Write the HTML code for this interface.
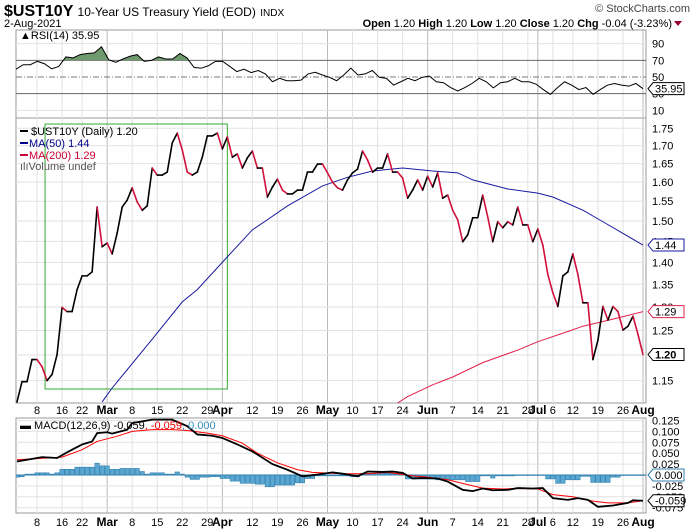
<!DOCTYPE html>
<html><head><meta charset="utf-8"><style>
body{margin:0;background:#fff;width:700px;height:530px;overflow:hidden;font-family:"Liberation Sans",sans-serif}
svg{position:absolute;left:0;top:0}
text{font-family:"Liberation Sans",sans-serif}
</style></head><body>
<svg id="c" width="700" height="530" viewBox="0 0 700 530">
<text x="4" y="16" font-size="16" font-weight="bold">$UST10Y <tspan font-size="12" font-weight="normal">10-Year US Treasury Yield (EOD)</tspan> <tspan font-size="10" font-weight="normal">INDX</tspan></text>
<text x="690" y="12" font-size="11" fill="#444" text-anchor="end">© StockCharts.com</text>
<text x="4" y="27" font-size="11">2-Aug-2021</text>
<text x="672" y="27" font-size="11" text-anchor="end"><tspan font-weight="bold">Open</tspan> 1.20 <tspan font-weight="bold">High</tspan> 1.20 <tspan font-weight="bold">Low</tspan> 1.20 <tspan font-weight="bold">Close</tspan> 1.20 <tspan font-weight="bold">Chg</tspan> -0.04 (-3.23%)</text>
<path d="M674,21 L682,21 L678,26Z" fill="#990033"/>
<g id="grid"></g>
<g id="marks"></g>
<text x="20" y="39" font-size="11">▲RSI(14) 35.95</text>
<g font-size="11">
<line x1="20" y1="131" x2="28" y2="131" stroke="#000" stroke-width="2"/><text x="31" y="135">$UST10Y (Daily) 1.20</text>
<line x1="20" y1="143" x2="28" y2="143" stroke="#00008b" stroke-width="2"/><text x="29" y="147" fill="#00008b">MA(50) 1.44</text>
<line x1="20" y1="155" x2="28" y2="155" stroke="#cc0033" stroke-width="2"/><text x="29" y="159" fill="#cc0033">MA(200) 1.29</text>
<text x="20" y="170" fill="#555">ılıVolume undef</text>
</g>
<text x="20" y="429" font-size="11">▬ MACD(12,26,9) -0.059<tspan fill="#e00">, -0.059</tspan><tspan fill="#3a8fc0">, 0.000</tspan></text>
</svg>
<script>
// ---- data ----
const closes=[1.110,1.148,1.148,1.191,1.191,1.177,1.150,1.162,1.201,1.299,1.290,1.290,1.338,1.369,1.369,1.378,1.535,1.437,1.446,1.420,1.470,1.535,1.553,1.585,1.548,1.527,1.538,1.638,1.619,1.619,1.627,1.708,1.736,1.688,1.627,1.619,1.627,1.668,1.728,1.728,1.736,1.691,1.725,1.668,1.677,1.638,1.666,1.685,1.638,1.638,1.561,1.587,1.608,1.579,1.569,1.569,1.579,1.579,1.627,1.627,1.649,1.649,1.625,1.600,1.585,1.579,1.606,1.625,1.635,1.685,1.660,1.627,1.638,1.638,1.677,1.627,1.627,1.611,1.558,1.579,1.606,1.579,1.616,1.587,1.625,1.558,1.566,1.527,1.503,1.449,1.466,1.508,1.508,1.566,1.510,1.449,1.498,1.483,1.498,1.490,1.535,1.490,1.490,1.449,1.480,1.441,1.372,1.331,1.301,1.369,1.378,1.420,1.372,1.309,1.309,1.191,1.230,1.301,1.272,1.301,1.290,1.251,1.259,1.280,1.242,1.201];
const ma50Days=[17,19,27,33,36,42,47,50,54,61,66,71,77,83,88,91,98,104,107,113,117,125];
const ma50Vals=[1.110,1.136,1.232,1.311,1.338,1.413,1.478,1.503,1.538,1.590,1.613,1.630,1.638,1.630,1.625,1.606,1.582,1.571,1.561,1.527,1.498,1.441];
const ma200Days=[76,78,83,87,93,100,104,110,113,119,125];
const ma200Vals=[1.108,1.120,1.142,1.157,1.185,1.210,1.227,1.248,1.259,1.274,1.290];
const rsiVals=[59.4,64.7,64.7,68.8,65.9,59.8,62.7,74.1,72.9,76.9,78.2,79,86.3,70.8,67.6,71.6,74.9,76.9,68.8,70,74.1,71.6,71.6,78.2,72.9,61.4,60.6,63.5,68.8,68.8,62.7,56.5,59.4,55.3,57.8,53.7,44.3,48.4,45.5,45.5,46.3,53.7,55.7,52.4,49.6,45.5,52.4,60.6,52.4,53.7,57.8,49.6,48.4,40.2,44.3,48.4,45.5,49.6,51.2,44.3,43.1,37.3,33.3,37.3,42.2,48.4,44.3,36.9,43.1,44.3,48.4,44.3,44.3,41.4,34.9,29.2,37.3,44.3,40.2,34.9,37.3,29.2,34.9,40.2,42.2,40.2,39,42.2,36];
const macdDays=[0,5,8,10,13,15,16,18,19,22,23,27,31,34,36,39,41,44,47,48,51,54,57,60,63,65,68,70,73,75,77,79,81,84,86,89,91,93,95,98,100,103,105,107,110,112,114,116,119,122,123,125];
const macdVals=[0.031,0.041,0.039,0.052,0.070,0.077,0.096,0.098,0.095,0.104,0.119,0.127,0.127,0.112,0.093,0.090,0.085,0.070,0.054,0.047,0.025,0.012,-0.003,0.001,0.006,0.003,-0.003,0.008,0.007,0.008,0.005,-0.008,-0.007,-0.008,-0.015,-0.034,-0.037,-0.031,-0.035,-0.034,-0.030,-0.031,-0.030,-0.053,-0.057,-0.053,-0.057,-0.073,-0.070,-0.064,-0.058,-0.059];
const signalDays=[0,6,9,13,16,20,23,27,31,34,38,41,45,48,52,56,59,65,70,74,79,82,86,90,93,97,100,104,107,111,115,118,122,125];
const signalVals=[0.035,0.039,0.041,0.058,0.077,0.089,0.100,0.104,0.104,0.102,0.096,0.090,0.073,0.050,0.028,0.012,0.006,0.003,0.003,0.006,-0.002,-0.005,-0.011,-0.022,-0.030,-0.032,-0.031,-0.032,-0.045,-0.050,-0.060,-0.064,-0.064,-0.059];
const histVals=[-0.005,-0.004,0.002,0.002,0.005,0.005,0.005,0.002,0.005,0.013,
0.013,0.013,0.018,0.018,0.018,0.018,0.027,0.021,0.021,0.013,
0.013,0.015,0.015,0.015,0.015,0.008,0.002,0.005,0.005,0.005,
0.002,0.002,0.007,0.002,-0.005,-0.010,-0.010,-0.005,-0.005,-0.004,
-0.004,-0.008,-0.008,-0.014,-0.014,-0.019,-0.019,-0.019,-0.021,-0.021,
-0.027,-0.027,-0.023,-0.023,-0.023,-0.023,-0.018,-0.018,-0.008,-0.008,
-0.002,-0.002,-0.002,-0.002,-0.002,-0.002,-0.002,-0.004,-0.004,0.004,
0.004,0.004,0.004,0.004,0.004,0.004,0.004,0.004,-0.009,-0.009,
-0.009,-0.009,-0.009,-0.009,-0.011,-0.011,-0.011,-0.011,-0.011,-0.011,
-0.015,-0.015,-0.015,-0.002,-0.002,-0.007,-0.002,-0.002,-0.002,-0.002,
0,0,0,0,0,0,-0.009,-0.009,-0.019,-0.019,
-0.011,-0.011,-0.011,-0.003,-0.003,-0.017,-0.017,-0.017,-0.017,-0.005,
-0.005,0,0,0,0,0];
const tickDays=[4,9,13,18,23,28,33,38,41,47,52,57,62,67,72,77,82,87,92,97,102,104,107,111,116,121,125];
const tickLabels=["8","16","22","Mar","8","15","22","29","Apr","12","19","26","May","10","17","24","Jun","7","14","21","28","Jul","6","12","19","26","Aug"];
const priceTicks=[1.75,1.70,1.65,1.60,1.55,1.50,1.45,1.40,1.35,1.30,1.25,1.20,1.15];
const rsiTicks=[90,70,50,30,10];
const macdTicks=[0.125,0.100,0.075,0.050,0.025,0.000,-0.025,-0.050,-0.075];
// ---- scales ----
const L=16,R=646;
const xD=d=>17+d*5.008;
const yP=v=>128.3+(Math.log(1.75)-Math.log(v))*601;
const yR=v=>77-(v-50)*0.833;
const yM=v=>475-v*436;
const NS="http://www.w3.org/2000/svg";
const grid=document.getElementById('grid'),marks=document.getElementById('marks');
function mk(tag,attrs,parent){const e=document.createElementNS(NS,tag);for(const k in attrs)e.setAttribute(k,attrs[k]);(parent||marks).appendChild(e);return e;}
[[30,118,'rsi-panel'],[118,403,'price-panel'],[418,513,'macd-panel']].forEach(p=>{
 const r=mk('rect',{x:L,y:p[0],width:R-L,height:p[1]-p[0],fill:'#fff',stroke:'#999'},grid);
 
 
});
tickDays.forEach((d,i)=>{
 const x=xD(d),mon=isNaN(+tickLabels[i]);
 [[30,118],[118,403],[418,513]].forEach(p=>{
  const l=mk('line',{x1:x,x2:x,y1:p[0],y2:p[1],stroke:mon?'#bbb':'#e2e2e2'},grid);
  
  
 });
 [414,526].forEach(y=>{
  const t=mk('text',{x:x,y:y,'font-size':mon?12:11,'font-weight':mon?'bold':'normal','text-anchor':'middle'},grid);
  t.textContent=tickLabels[i];
  
  
 });
});
priceTicks.forEach(v=>{
 const y=yP(v);
 const l=mk('line',{x1:L,x2:R,y1:y,y2:y,stroke:'#e2e2e2'},grid);
 
 
 const t=mk('text',{x:652,y:y+4,'font-size':11},grid);
 t.textContent=v.toFixed(2);
 
 
});
rsiTicks.forEach(v=>{
 const y=yR(v),ref=(v==70||v==30),mid=v==50;
 const l=mk('line',{x1:L,x2:R,y1:y,y2:y,stroke:ref?'#666':(mid?'#777':'#e2e2e2'),'stroke-dasharray':mid?'6,2,1,2':'none'},grid);
 
 
 const t=mk('text',{x:652,y:y+4,'font-size':11},grid);
 t.textContent=v;
 
 
});
macdTicks.forEach(v=>{
 const y=yM(v);
 const l=mk('line',{x1:L,x2:R,y1:y,y2:y,stroke:'#e2e2e2'},grid);
 
 
 const t=mk('text',{x:652,y:y+4,'font-size':11},grid);
 t.textContent=v.toFixed(3);
 
 
});
const defs=mk('defs',{},grid);
[['cp',118,403],['cr',30,118],['cm',418,513]].forEach(c=>{const cp=mk('clipPath',{id:c[0]},defs);mk('rect',{x:L,y:c[1],width:R-L,height:c[2]-c[1]},cp);});
// RSI
const rx=i=>L+i*(643-L)/(rsiVals.length-1);
const rsiPts=rsiVals.map((v,i)=>[rx(i),yR(v)]);
const g70=mk('g',{'clip-path':'url(#cr)'});
const clip70=mk('clipPath',{id:'a70'},defs);mk('rect',{x:L,y:30,width:R-L,height:yR(70)-30},clip70);
const fillA=mk('path',{d:'M'+L+','+yR(70)+' '+rsiPts.map(p=>'L'+p[0]+','+p[1]).join(' ')+' L643,'+yR(70)+'Z',fill:'#6e9a6e',stroke:'none','clip-path':'url(#a70)'},g70);


const rl=mk('polyline',{points:rsiPts.map(p=>p.join(',')).join(' '),fill:'none',stroke:'#000','stroke-width':1},g70);


// price
const gp=mk('g',{'clip-path':'url(#cp)'});
const box=mk('rect',{x:xD(5.6),y:124,width:xD(42)-xD(5.6),height:265,fill:'none',stroke:'#3a3','stroke-width':1},gp);


const lineOf=(days,vals)=>days.map((d,i)=>xD(d)+','+yP(vals[i])).join(' ');
const m50=mk('polyline',{points:lineOf(ma50Days,ma50Vals),fill:'none',stroke:'#1a1aa0','stroke-width':1},gp);


const m200=mk('polyline',{points:lineOf(ma200Days,ma200Vals),fill:'none',stroke:'#e0204a','stroke-width':1},gp);


for(let i=1;i<closes.length;i++){
 const s=mk('line',{x1:xD(i-1),y1:yP(closes[i-1]),x2:xD(i),y2:yP(closes[i]),stroke:closes[i]<closes[i-1]?'#d0103a':'#000','stroke-width':1.6,'stroke-linecap':'round'},gp);
 
 
}
// MACD
const gm=mk('g',{'clip-path':'url(#cm)'});
const bw=4.4;
histVals.forEach((v,i)=>{
 const x=xD(i)-bw/2,y0=yM(0),y1=yM(v);
 const b=mk('rect',{x:x,y:Math.min(y0,y1),width:bw,height:Math.max(0.5,Math.abs(y1-y0)),fill:'#5aa7d2',stroke:'#2f7fae','stroke-width':0.6},gm);
 
 
});
const zl=mk('line',{x1:L,x2:646,y1:yM(0),y2:yM(0),stroke:'#2f7fae'},gm);


const mLine=(days,vals)=>days.map((d,i)=>xD(d)+','+yM(vals[i])).join(' ');
const sg=mk('polyline',{points:mLine(signalDays,signalVals),fill:'none',stroke:'#f00','stroke-width':1},gm);


const ml=mk('polyline',{points:mLine(macdDays,macdVals),fill:'none',stroke:'#000','stroke-width':1.8},gm);


// value tags
function tag(y,txt,color,bold,name){
 const g=mk('g',{});
 
 
 mk('path',{d:`M648,${y} L653,${y-6} L684,${y-6} L684,${y+6} L653,${y+6}Z`,fill:'#fff',stroke:color},g);
 const t=mk('text',{x:655,y:y+4,'font-size':11,'font-weight':bold?'bold':'normal',fill:'#000'},g);t.textContent=txt;
}
tag(yP(ma50Vals[ma50Vals.length-1]),'1.44','#1a1aa0',false,'ma50-value-tag');
tag(yP(ma200Vals[ma200Vals.length-1]),'1.29','#e0204a',false,'ma200-value-tag');
tag(yP(closes[closes.length-1]),'1.20','#000',true,'close-value-tag');
tag(yR(rsiVals[rsiVals.length-1]),'35.95','#000',false,'rsi-value-tag');
tag(yM(0),'0.000','#2f7fae',false,'histogram-value-tag');
tag(yM(macdVals[macdVals.length-1]),'-0.059','#000',false,'macd-value-tag');
</script>
</body></html>
